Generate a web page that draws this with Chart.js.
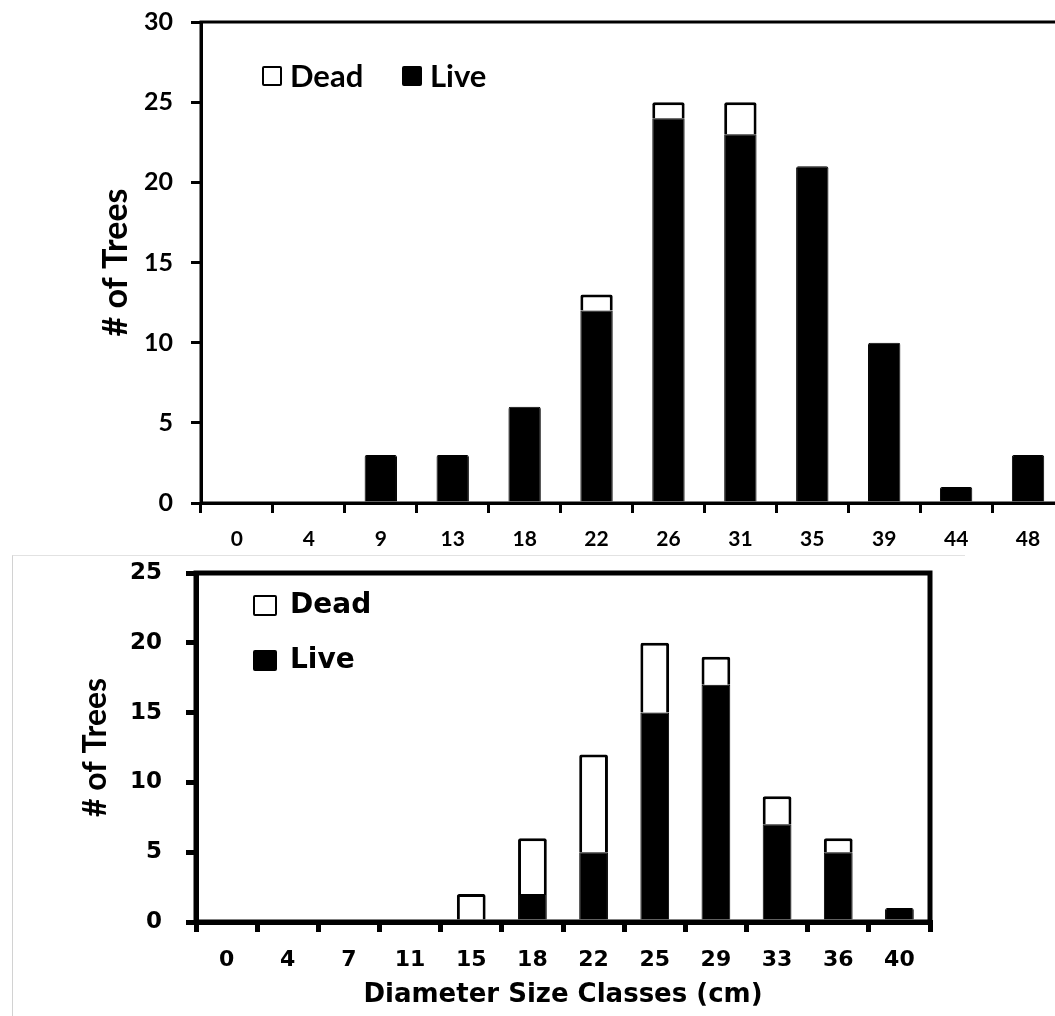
<!DOCTYPE html>
<html>
<head>
<meta charset="utf-8">
<script src="https://cdn.jsdelivr.net/npm/chart.js@4.4.0/dist/chart.umd.min.js"></script>
<style>
html, body { margin:0; padding:0; background:#fff; width:1055px; height:1016px; overflow:hidden; }
#wrap { position:relative; width:1055px; height:1016px; overflow:hidden; }
#c1 { position:absolute; left:0; top:0; }
#c2 { position:absolute; left:0; top:540px; }
#edge2 { position:absolute; left:12px; top:555px; width:952px; height:470px;
         border-left:1px solid #d2d2d2; border-top:1px solid #e2e2e2; }
.lgtext { position:absolute; font-weight:bold; color:#000; white-space:nowrap; }
.lgbox { position:absolute; box-sizing:border-box; border:2.5px solid #000; border-radius:2px; }
</style>
</head>
<body>
<div id="wrap">
  <div id="edge2"></div>
  <canvas id="c1" width="1065" height="555"></canvas>
  <canvas id="c2" width="1055" height="476"></canvas>
</div>
<script>
// ---- data ----
// top panel
var topClasses = ['0','4','9','13','18','22','26','31','35','39','44','48'];
var topLive    = [0, 0, 3, 3, 6, 12, 24, 23, 21, 10, 1, 3];
var topDead    = [0, 0, 0, 0, 0,  1,  1,  2,  0,  0, 0, 0];
var topTicks   = [0, 5, 10, 15, 20, 25, 30];

// bottom panel
var botClasses = ['0','4','7','11','15','18','22','25','29','33','36','40'];
var botLive    = [0, 0, 0, 0, 0, 2, 5, 15, 17, 7, 5, 1];
var botDead    = [0, 0, 0, 0, 2, 4, 7,  5,  2, 2, 1, 0];
var botTicks   = [0, 5, 10, 15, 20, 25];

var CAL = 'Lato, "Open Sans", sans-serif';
var VER = '"DejaVu Sans", Verdana, sans-serif';

//draws the box round the plot area, on top of the bars
var framePlugin = {
  id: 'frame',
  afterDatasetsDraw: function(chart, args, opts) {
    var a = chart.chartArea, ctx = chart.ctx;
    ctx.save();
    ctx.strokeStyle = '#000';
    ctx.lineWidth = opts.width || 3;
    ctx.strokeRect(a.left, a.top, a.right - a.left, a.bottom - a.top);
    ctx.restore();
  }
};

function makeChart(id, p) {
  var ticks = p.ticks;
  return new Chart(document.getElementById(id), {
    type: 'bar',
    data: {
      labels: p.labels,
      datasets: [
        { label: 'Live', data: p.live, backgroundColor: '#000', borderColor: '#000',
          borderWidth: 1, borderRadius: 2, borderSkipped: 'start',
          categoryPercentage: 1, barPercentage: p.barPct },
        { label: 'Dead', data: p.dead, backgroundColor: '#fff', borderColor: '#000',
          borderWidth: p.deadBorder, borderRadius: 2, borderSkipped: 'start',
          categoryPercentage: 1, barPercentage: p.barPct }
      ]
    },
    options: {
      responsive: false,
      animation: false,
      devicePixelRatio: 1,
      layout: { padding: p.pad },
      plugins: { legend: { display: false }, tooltip: { enabled: false }, frame: { width: p.line } },
      scales: {
        x: {
          stacked: true,
          grid: { display: true, drawOnChartArea: false, drawTicks: true, tickLength: 10,
                  color: '#000', lineWidth: p.line, offset: true },
          border: { display: true, color: '#000', width: p.line },
          ticks: { color: '#000', font: { family: p.xFont, size: p.xSize, weight: 'bold' },
                   padding: p.xPad, maxRotation: 0, autoSkip: false },
          title: p.xTitle ? { display: true, text: p.xTitle, color: '#000',
                   font: { family: VER, size: 26, weight: 'bold' }, padding: { top: 0, bottom: 5 } }
                 : { display: false },
          afterFit: function(s) { s.height = p.xHeight; }
        },
        y: {
          stacked: true,
          min: ticks[0], max: ticks[ticks.length - 1],
          grid: { display: true, drawOnChartArea: false, drawTicks: true, tickLength: 10,
                  color: '#000', lineWidth: p.line },
          border: { display: true, color: '#000', width: p.line },
          ticks: { color: '#000', font: { family: p.yFont, size: p.ySize, weight: 'bold' },
                   padding: p.yPad },
          afterBuildTicks: function(s) { s.ticks = ticks.map(function(v) { return { value: v }; }); },
          title: { display: true, text: '# of Trees', color: '#000',
                   font: { family: CAL, size: p.yTitleSize, weight: 'bold' },
                   padding: { top: p.yTitleOff, bottom: 0 } },
          //fixed width, and dont let the tick labels push the plot down
          afterFit: function(s) { s.width = p.yWidth; s.paddingTop = 0; s.paddingBottom = 0; }
        }
      }
    },
    plugins: [framePlugin]
  });
}

var chart1 = makeChart('c1', {
  labels: topClasses, live: topLive, dead: topDead, ticks: topTicks,
  barPct: 0.45, deadBorder: 3, line: 3,
  pad: { left: 0, right: 1, top: 22, bottom: 0 },
  xFont: CAL, xSize: 21, xPad: 14, yFont: CAL, ySize: 25, yPad: 18,
  xHeight: 52, yWidth: 201, yTitleSize: 34, yTitleOff: 96
});

var chart2 = makeChart('c2', {
  labels: botClasses, live: botLive, dead: botDead, ticks: botTicks,
  barPct: 0.47, deadBorder: 3, line: 5,
  pad: { left: 0, right: 125, top: 33, bottom: 0 },
  xFont: VER, xSize: 22, xPad: 15, yFont: VER, ySize: 23, yPad: 24,
  xTitle: 'Diameter Size Classes (cm)',
  xHeight: 94, yWidth: 196, yTitleSize: 32, yTitleOff: 76
});

//legend in html, read from the datasets (Dead first like the original)
function drawLegend(chart, spots, font, size, box) {
  var wrap = document.getElementById('wrap');
  var ds = chart.data.datasets.slice().reverse();
  for (var i = 0; i < ds.length; i++) {
    var s = spots[i];
    var b = document.createElement('div');
    b.className = 'lgbox';
    b.style.left = s.x + 'px';
    b.style.top = (s.y - box.h / 2) + 'px';
    b.style.width = box.w + 'px';
    b.style.height = box.h + 'px';
    b.style.background = ds[i].backgroundColor;
    wrap.appendChild(b);
    var t = document.createElement('div');
    t.className = 'lgtext';
    t.textContent = ds[i].label;
    t.style.fontFamily = font;
    t.style.fontSize = size + 'px';
    t.style.lineHeight = '40px';
    t.style.left = (s.x + box.w + box.gap) + 'px';
    t.style.top = (s.y - 20 + box.dy) + 'px';
    wrap.appendChild(t);
  }
}

drawLegend(chart1, [{ x: 262, y: 76 }, { x: 402, y: 76 }], CAL, 31, { w: 20, h: 20, gap: 8, dy: -1 });
drawLegend(chart2, [{ x: 253, y: 605 }, { x: 253, y: 660 }], VER, 28, { w: 24, h: 21, gap: 13, dy: -1 });
</script>
</body>
</html>
